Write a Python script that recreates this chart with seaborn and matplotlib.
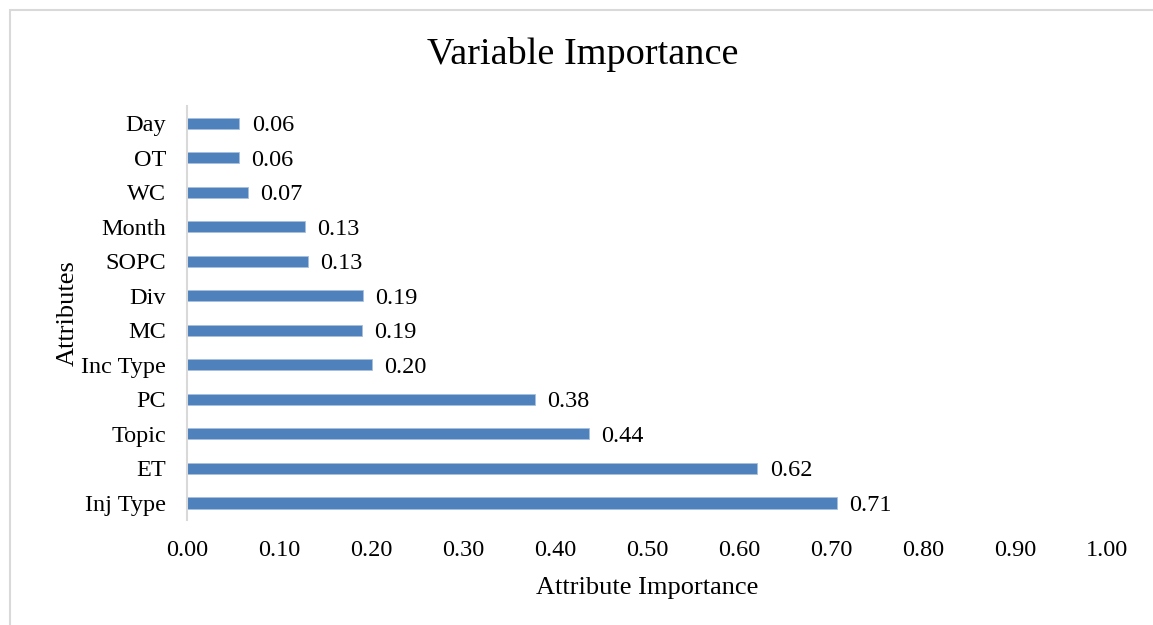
import matplotlib
matplotlib.use("Agg")
import matplotlib.pyplot as plt
import pandas as pd
import seaborn as sns
from matplotlib.patches import Rectangle

# values
attributes = ["Day", "OT", "WC", "Month", "SOPC", "Div", "MC",
              "Inc Type", "PC", "Topic", "ET", "Inj Type"]
importance = [0.057, 0.056, 0.066, 0.128, 0.131, 0.191, 0.190,
              0.201, 0.378, 0.437, 0.620, 0.706]
x_ticks = [0.0, 0.1, 0.2, 0.3, 0.4, 0.5, 0.6, 0.7, 0.8, 0.9, 1.0]

df = pd.DataFrame({"Attributes": attributes, "Importance": importance})

sns.set_theme(style="white")
plt.rcParams["font.family"] = ["Liberation Serif", "DejaVu Serif"]
for key in ["text.color", "axes.labelcolor", "xtick.color", "ytick.color"]:
    plt.rcParams[key] = "black"

fig = plt.figure(figsize=(11.53, 6.25), dpi=100)
ax = fig.add_axes([0.1622, 0.1676, 0.798, 0.663])

# light grey chart-area frame
fig.patches.append(Rectangle((10 / 1153, -0.05), 1.1, 1 - 10 / 625 + 0.05,
                             transform=fig.transFigure, fill=False,
                             edgecolor="#d9d9d9", linewidth=1.5))

sns.barplot(data=df, y="Attributes", x="Importance", orient="h",
            color="#4f81bd", saturation=1, width=0.32,
            edgecolor="#a7c0de", linewidth=0.6, ax=ax)

labels = [f"{v:.2f}" for v in importance]
texts = ax.bar_label(ax.containers[0], labels=labels, padding=9, fontsize=17.5)
for t in texts:
    t.set_va("center_baseline")

ax.set_xlim(0, 1.0)
ax.set_ylim(11.5, -0.5)
ax.set_xticks(x_ticks)
ax.set_xticklabels([f"{t:.2f}" for t in x_ticks], fontsize=17.5)
ax.tick_params(axis="y", labelsize=17.5, length=0, pad=15)
ax.tick_params(axis="x", length=0, pad=14)

for side in ["top", "right", "bottom"]:
    ax.spines[side].set_visible(False)
ax.spines["left"].set_color("#d9d9d9")
ax.spines["left"].set_linewidth(1.5)

ax.set_xlabel("Attribute Importance", fontsize=19, labelpad=12)
ax.set_ylabel("Attributes", fontsize=19, labelpad=2)
fig.text(583 / 1153, 0.912, "Variable Importance", ha="center", va="center",
         fontsize=27.5)

fig.savefig("out.png", dpi=100, facecolor="white")
